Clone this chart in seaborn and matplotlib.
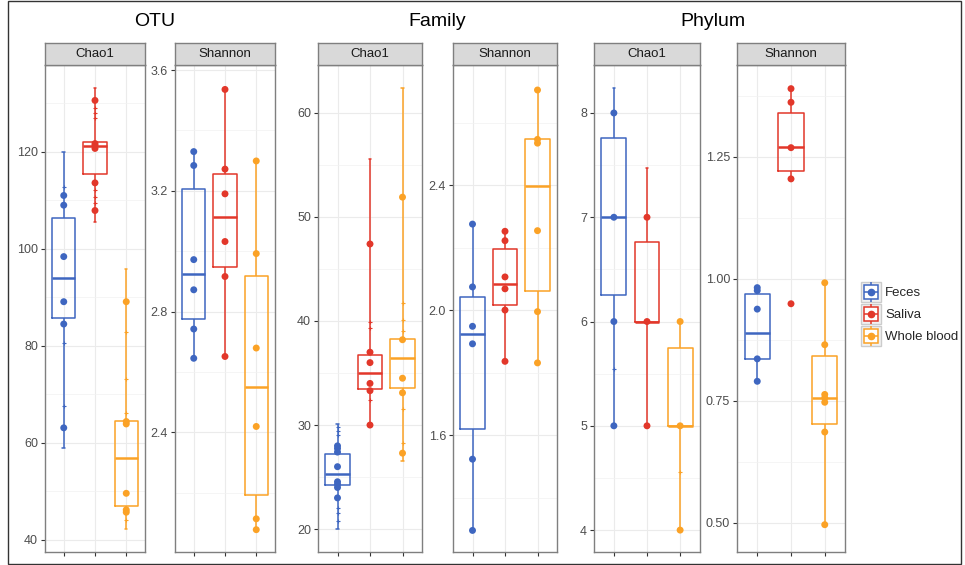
import numpy as np
import pandas as pd
import matplotlib
matplotlib.use("Agg")
import matplotlib.pyplot as plt
from matplotlib.lines import Line2D
from matplotlib.legend_handler import HandlerTuple
from matplotlib.ticker import MultipleLocator, FormatStrFormatter
import seaborn as sns

groups = ["Feces", "Saliva", "Whole blood"]
colors = ["#3E66C0", "#E2372A", "#FBA226"]

# five-number summaries: lower whisker, q1, median, q3, upper whisker
otu_chao1_box = {"Feces": [58.9, 85.8, 94.0, 106.4, 119.9],
                 "Saliva": [105.5, 115.4, 121.2, 122.1, 133.1],
                 "Whole blood": [42.2, 47.0, 56.9, 64.5, 95.8]}
otu_shannon_box = {"Feces": [2.645, 2.776, 2.923, 3.207, 3.330],
                   "Saliva": [2.651, 2.946, 3.113, 3.255, 3.536],
                   "Whole blood": [2.077, 2.192, 2.550, 2.917, 3.299]}
family_chao1_box = {"Feces": [20.0, 24.2, 25.3, 27.2, 30.1],
                    "Saliva": [30.0, 33.5, 35.0, 36.75, 55.6],
                    "Whole blood": [26.5, 33.6, 36.4, 38.3, 62.4]}
family_shannon_box = {"Feces": [1.295, 1.618, 1.922, 2.042, 2.275],
                      "Saliva": [1.836, 2.017, 2.083, 2.195, 2.252],
                      "Whole blood": [1.831, 2.062, 2.397, 2.547, 2.704]}
phylum_chao1_box = {"Feces": [5.0, 6.255, 7.0, 7.757, 8.236],
                    "Saliva": [5.0, 6.0, 6.0, 6.76, 7.469],
                    "Whole blood": [4.0, 5.0, 5.0, 5.75, 6.0]}
phylum_shannon_box = {"Feces": [0.790, 0.836, 0.889, 0.968, 0.982],
                      "Saliva": [1.205, 1.222, 1.271, 1.340, 1.390],
                      "Whole blood": [0.496, 0.703, 0.755, 0.841, 0.992]}

# sample points (large dots)
otu_chao1_pts = {"Feces": [111.0, 109.0, 98.4, 89.1, 84.5, 63.1],
                 "Saliva": [130.6, 121.7, 121.3, 120.7, 113.6, 107.9],
                 "Whole blood": [89.1, 64.4, 63.9, 49.6, 46.2, 45.7]}
otu_shannon_pts = {"Feces": [3.330, 3.284, 2.972, 2.872, 2.742, 2.645],
                   "Saliva": [3.536, 3.272, 3.190, 3.032, 2.916, 2.651],
                   "Whole blood": [3.299, 2.992, 2.679, 2.419, 2.113, 2.077]}
family_chao1_pts = {"Feces": [28.0, 27.75, 27.4, 26.0, 24.55, 24.3, 24.0, 23.0],
                    "Saliva": [47.4, 37.0, 36.0, 34.0, 33.3, 30.0],
                    "Whole blood": [51.9, 38.2, 34.5, 33.1, 27.3]}
family_shannon_pts = {"Feces": [2.275, 2.074, 1.948, 1.892, 1.523, 1.295],
                      "Saliva": [2.252, 2.222, 2.106, 2.068, 2.0, 1.836],
                      "Whole blood": [2.704, 2.546, 2.534, 2.254, 1.995, 1.831]}
phylum_chao1_pts = {"Feces": [8.0, 7.0, 6.0, 5.0],
                    "Saliva": [7.0, 6.0, 5.0],
                    "Whole blood": [6.0, 5.0, 4.0]}
phylum_shannon_pts = {"Feces": [0.982, 0.976, 0.938, 0.836, 0.790],
                      "Saliva": [1.390, 1.362, 1.269, 1.205, 0.949],
                      "Whole blood": [0.992, 0.865, 0.763, 0.756, 0.747, 0.686, 0.496]}

# small tick marks along the whiskers
otu_chao1_marks = {"Feces": [112.7, 80.5, 67.6],
                   "Saliva": [129.1, 128.1, 126.9, 112.2, 110.7, 109.4],
                   "Whole blood": [82.9, 73.2, 66.2, 44.2]}
family_chao1_marks = {"Feces": [29.8, 29.4, 29.0, 22.0, 21.5, 20.8],
                      "Saliva": [39.9, 39.3, 32.4],
                      "Whole blood": [41.7, 40.1, 39.0, 31.5, 28.3]}
phylum_chao1_marks = {"Feces": [5.546], "Saliva": [], "Whole blood": [4.554]}

panels = [
    ("Chao1", otu_chao1_box, otu_chao1_pts, otu_chao1_marks, (37.5, 137.9), 20, 10, "%g"),
    ("Shannon", otu_shannon_box, otu_shannon_pts, {}, (2.003, 3.617), 0.4, 0.2, "%.1f"),
    ("Chao1", family_chao1_box, family_chao1_pts, family_chao1_marks, (17.8, 64.6), 10, 5, "%g"),
    ("Shannon", family_shannon_box, family_shannon_pts, {}, (1.226, 2.784), 0.4, 0.2, "%.1f"),
    ("Chao1", phylum_chao1_box, phylum_chao1_pts, phylum_chao1_marks, (3.79, 8.46), 1, 0.5, "%g"),
    ("Shannon", phylum_shannon_box, phylum_shannon_pts, {}, (0.44, 1.4385), 0.25, 0.125, "%.2f"),
]
panel_x = [(45, 145), (175, 275), (318, 422), (453, 557), (594, 700), (737, 845)]
titles = [("OTU", 155), ("Family", 437), ("Phylum", 713)]


def long_frame(d):
    rows = [(g, v) for g in groups for v in d.get(g, [])]
    return pd.DataFrame(rows, columns=["group", "value"])


W, H = 965, 565
fig = plt.figure(figsize=(W / 100, H / 100), dpi=100)
sns.set_style("white")
plt.rcParams["font.family"] = ["Liberation Sans", "DejaVu Sans"]
palette = dict(zip(groups, colors))

top, bottom, strip_h = 65, 552, 22
for (name, box, pts, marks, ylim, major, minor, fmt), (x0, x1) in zip(panels, panel_x):
    ax = fig.add_axes([x0 / W, (H - bottom) / H, (x1 - x0) / W, (bottom - top) / H])
    bdf = long_frame(box)
    sns.boxplot(data=bdf, x="group", y="value", hue="group", order=groups,
                palette=palette, fill=False, whis=np.inf, width=0.75,
                linewidth=1.1, capwidths=0.08, legend=False, ax=ax,
                medianprops={"linewidth": 1.8})
    pdf = long_frame(pts)
    sns.stripplot(data=pdf, x="group", y="value", hue="group", order=groups,
                  palette=palette, jitter=False, size=5, linewidth=0,
                  legend=False, ax=ax, zorder=4)
    mdf = long_frame(marks)
    for g, c in zip(groups, colors):
        vals = mdf.loc[mdf["group"] == g, "value"] if len(mdf) else []
        if len(vals):
            ax.scatter(np.full(len(vals), groups.index(g)), vals, marker="+",
                       s=10, color=c, linewidths=0.8, zorder=4)
    ax.set_xlim(-0.6, 2.6)
    ax.set_ylim(*ylim)
    ax.yaxis.set_major_locator(MultipleLocator(major))
    ax.yaxis.set_minor_locator(MultipleLocator(minor))
    ax.yaxis.set_major_formatter(FormatStrFormatter(fmt))
    ax.grid(True, which="major", color="#EBEBEB", linewidth=0.8)
    ax.grid(True, which="minor", axis="y", color="#F2F2F2", linewidth=0.5)
    ax.set_axisbelow(True)
    ax.set_xlabel("")
    ax.set_ylabel("")
    ax.set_xticks([0, 1, 2])
    ax.set_xticklabels([])
    ax.tick_params(axis="both", which="major", length=3, width=0.8,
                   color="#333333", labelsize=9, labelcolor="#4D4D4D", direction="out",
                   left=True, bottom=True, pad=2)
    ax.tick_params(axis="y", which="minor", length=0)
    for s in ax.spines.values():
        s.set_color("#7F7F7F")
        s.set_linewidth(1.0)
    sax = fig.add_axes([x0 / W, (H - top) / H, (x1 - x0) / W, strip_h / H])
    sax.set_facecolor("#D9D9D9")
    sax.set_xticks([])
    sax.set_yticks([])
    for s in sax.spines.values():
        s.set_color("#7F7F7F")
        s.set_linewidth(1.0)
    sax.text(0.5, 0.5, name, ha="center", va="center", fontsize=9.5, color="#1A1A1A",
             transform=sax.transAxes)

for t, xc in titles:
    fig.text(xc / W, 1 - 22 / H, t, ha="center", va="center", fontsize=14, color="black")

handles = []
for c in colors:
    handles.append((
        Line2D([], [], marker="s", ms=15, mfc="#F2F2F2", mec="#CCCCCC", ls="none"),
        Line2D([], [], marker="|", ms=15, mec=c, mew=1.1, ls="none"),
        Line2D([], [], marker="s", ms=10, mfc="white", mec=c, mew=1.1, ls="none"),
        Line2D([], [], marker="_", ms=10, mec=c, mew=1.1, ls="none"),
        Line2D([], [], marker="o", ms=4.5, color=c, ls="none"),
    ))
fig.legend(handles, groups, handler_map={tuple: HandlerTuple(ndivide=1)},
           loc="upper left", bbox_to_anchor=(862 / W, 1 - 287 / H), frameon=False,
           fontsize=9.5, handlelength=1.4, handletextpad=0.35, labelspacing=0.75,
           borderaxespad=0, borderpad=0)

border = plt.Rectangle((8 / W, 1 / H), 953 / W, 1 - 2 / H, transform=fig.transFigure,
                       fill=False, edgecolor="#333333", linewidth=1.0)
fig.patches.append(border)

fig.savefig("out.png", dpi=100)
